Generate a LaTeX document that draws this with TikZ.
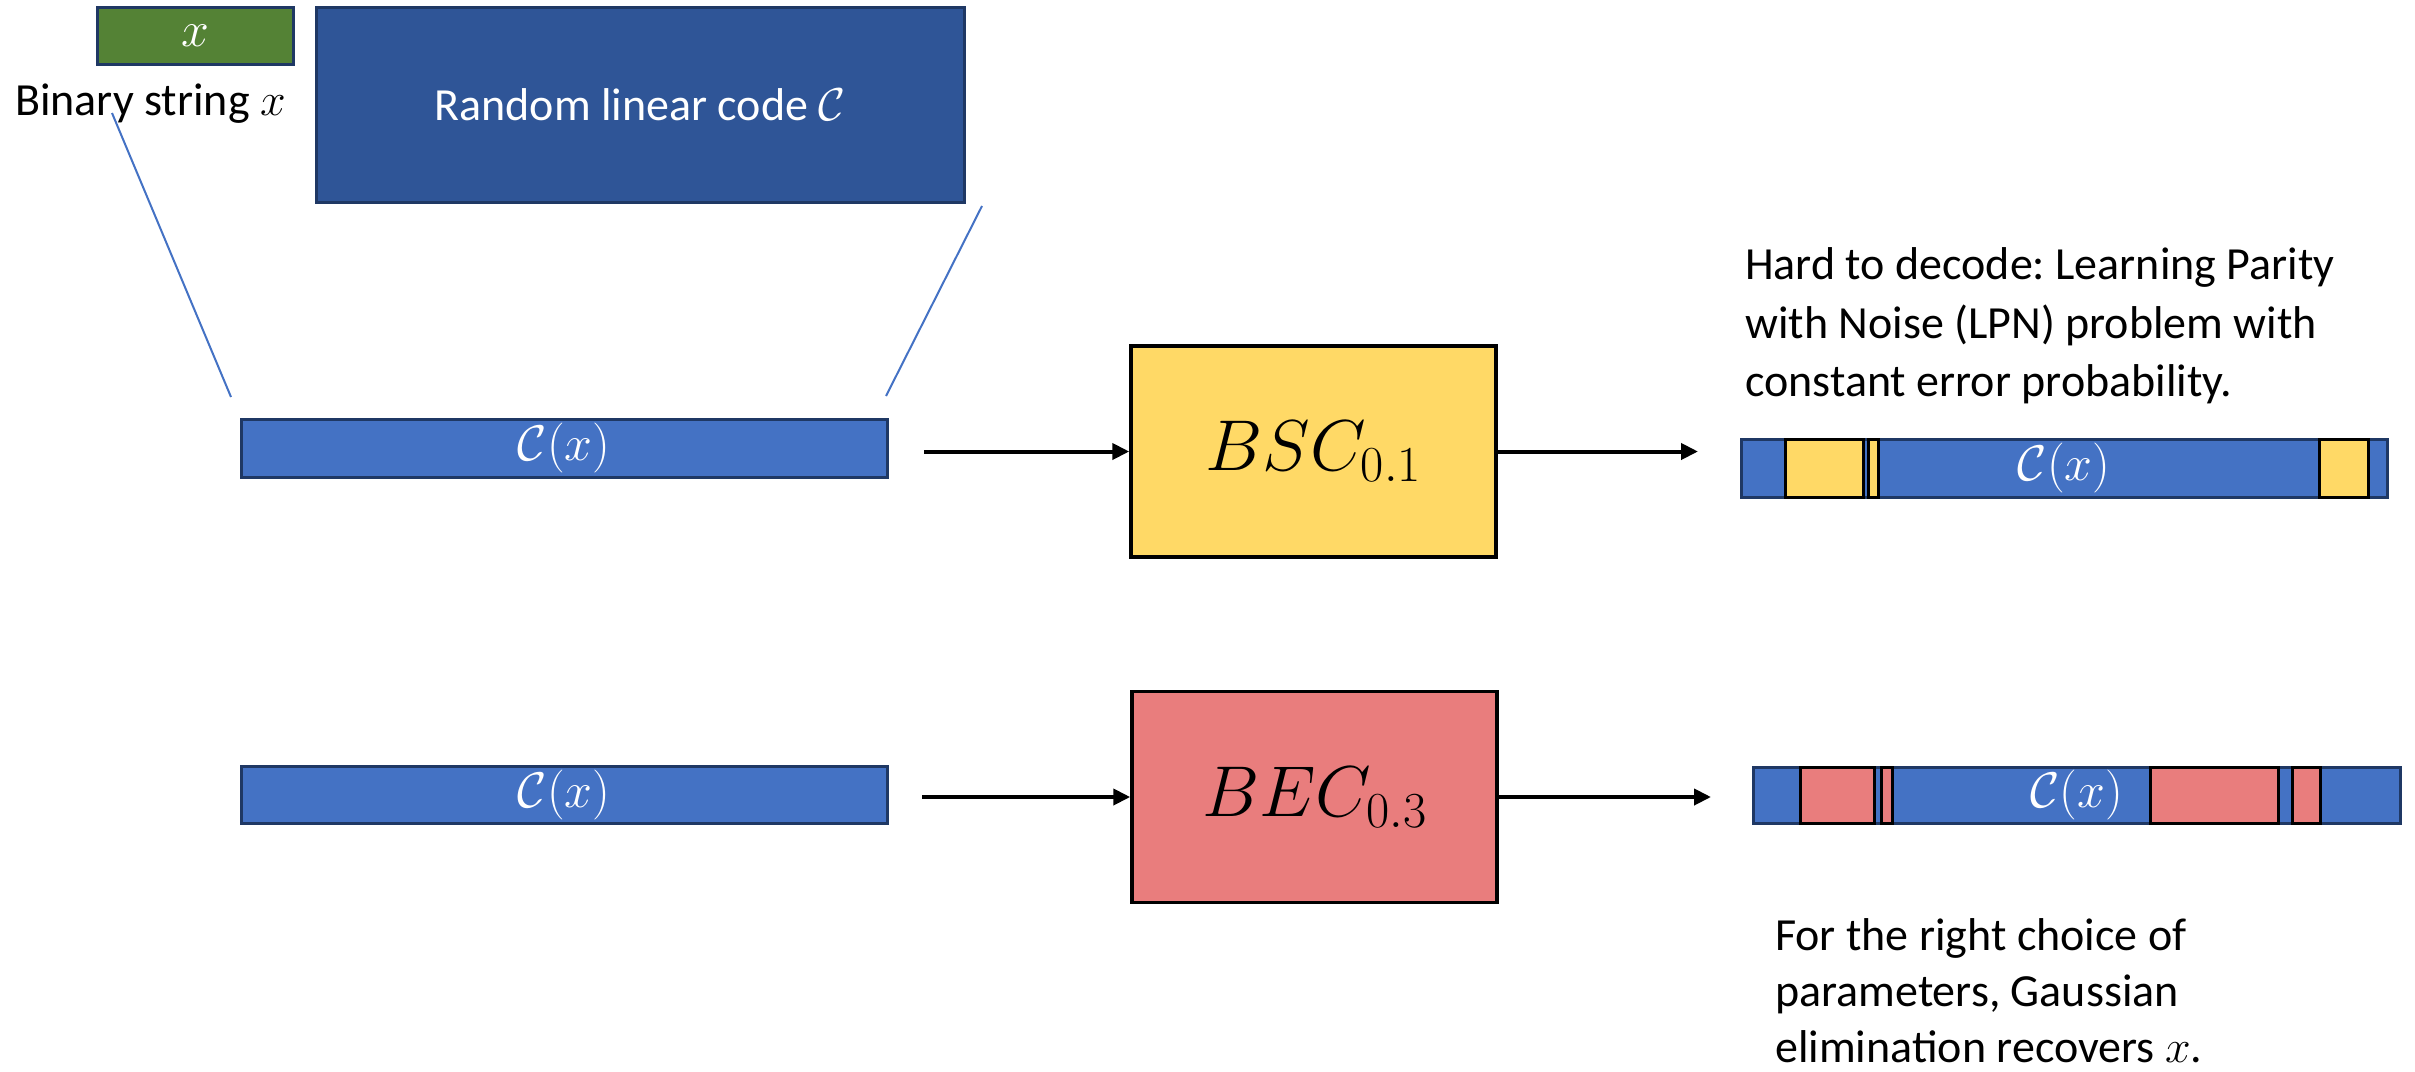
\RequirePackage{fix-cm}
\documentclass[tikz,border=0pt]{standalone}
\usepackage{fontspec}
\setmainfont{Carlito}
\usetikzlibrary{arrows.meta}
\frenchspacing

\definecolor{barblue}{HTML}{4472C4}
\definecolor{barline}{HTML}{1F3864}
\definecolor{codeblue}{HTML}{2F5597}
\definecolor{strgreen}{HTML}{548235}
\definecolor{errYellow}{HTML}{FFD966}
\definecolor{errRed}{HTML}{E97D7D}

\tikzset{
  txt/.style={font=\fontsize{46}{57}\selectfont, inner sep=0pt},
  mathlbl/.style={font=\fontsize{50}{60}\selectfont, text=white},
  codebar/.style={draw=barline, line width=3pt, fill=barblue, rectangle,
    inner sep=0pt, mathlbl},
  flipbit/.style={draw=black, line width=3pt, fill=errYellow},
  erased/.style={draw=black, line width=3pt, fill=errRed},
  channel/.style={draw=black, line width=3.5pt, rectangle, inner sep=0pt,
    minimum width=365pt, minimum height=211pt,
    font=\fontsize{72}{82}\selectfont},
  flow/.style={-{Triangle[length=17pt,width=16pt]}, line width=4pt},
  zoomline/.style={draw=barblue, line width=2pt}
}

\begin{document}
\begin{tikzpicture}[x=1pt,y=-1pt]
\useasboundingbox (0,0) rectangle (2415,1071);

% message and code
\node[draw=barline, line width=3pt, fill=strgreen, minimum width=196pt,
  minimum height=57pt, inner sep=0pt, mathlbl] (msg) at (195,35.5) {$x$};
\node[txt, anchor=base west] (msglbl) at (15,115) {Binary string $x$};
\node[draw=barline, line width=3pt, fill=codeblue, minimum width=648pt,
  minimum height=195pt, inner sep=0pt, txt, text=white] (code) at (640,104.5)
  {Random linear code $\mathcal{C}$};

% codewords
\node[codebar, minimum width=646pt, minimum height=58pt] (cw1) at (564,448) {$\mathcal{C}(x)$};
\node[codebar, minimum width=646pt, minimum height=57pt] (cw2) at (564,795) {$\mathcal{C}(x)$};

% lines fanning from the code down to the codeword
\coordinate (zl1) at (112,113);
\coordinate (zl2) at (231,397);
\coordinate (zr1) at (982,206);
\coordinate (zr2) at (886,396);
\draw[zoomline] (zl1) -- (zl2);
\draw[zoomline] (zr1) -- (zr2);

% channels
\node[channel, fill=errYellow] (bsc) at (1313.5,451.5) {$BSC_{0.1}$};
\node[channel, fill=errRed] (bec) at (1314.5,797) {$BEC_{0.3}$};

\coordinate (in1) at (924,451.5);
\coordinate (out1) at (1698,451.5);
\coordinate (in2) at (922,797);
\coordinate (out2) at (1711,797);
\draw[flow] (in1) -- (bsc.west);
\draw[flow] (bsc.east) -- (out1);
\draw[flow] (in2) -- (bec.west);
\draw[flow] (bec.east) -- (out2);

% received word through the BSC
\node[codebar, minimum width=646pt, minimum height=58pt] (rx1) at (2064,468) {};
\draw[flipbit] (1785,439) rectangle (1863,497);
\draw[flipbit] (1868,439) rectangle (1878,497);
\draw[flipbit] (2319,439) rectangle (2368,497);
\node[mathlbl] at (rx1.center) {$\mathcal{C}(x)$};

% received word through the BEC
\node[codebar, minimum width=647pt, minimum height=56pt] (rx2) at (2076.5,795) {};
\draw[erased] (1800,767) rectangle (1874,823);
\draw[erased] (1881,767) rectangle (1892,823);
\draw[erased] (2150,767) rectangle (2278,823);
\draw[erased] (2292,767) rectangle (2320,823);
\node[mathlbl] at (rx2.center) {$\mathcal{C}(x)$};

% notes
\node[txt, anchor=base west] (hard1) at (1745,279) {Hard to decode: Learning Parity};
\node[txt, anchor=base west] (hard2) at (1745,338) {with Noise (LPN) problem with};
\node[txt, anchor=base west] (hard3) at (1745,396) {constant error probability.};

\node[txt, anchor=base west] (easy1) at (1775,950) {For the right choice of};
\node[txt, anchor=base west] (easy2) at (1775,1006) {parameters, Gaussian};
\node[txt, anchor=base west] (easy3) at (1775,1062) {elimination recovers $x$.};
\end{tikzpicture}
\end{document}
